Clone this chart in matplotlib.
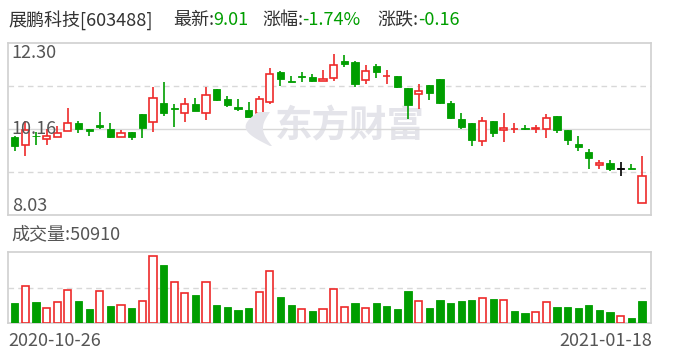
import matplotlib
matplotlib.use("Agg")
import matplotlib.pyplot as plt
import numpy as np
from matplotlib.patches import Polygon

plt.rcParams['font.family'] = ['Noto Sans CJK SC', 'DejaVu Sans']

# daily candles 2020-10-26 .. 2021-01-18
opens = [9.97, 9.76, 9.99, 9.91, 9.97, 10.11, 10.31, 10.16, 10.26, 10.16,
         9.96, 10.08, 10.54, 10.34, 10.81, 10.69, 10.55, 10.79, 10.56, 11.17,
         10.90, 10.70, 10.64, 10.55, 10.84, 11.58, 11.36, 11.46, 11.46, 11.35,
         11.44, 11.85, 11.83, 11.37, 11.73, 11.48, 11.48, 11.18, 11.03, 11.26,
         11.41, 10.81, 10.41, 10.31, 9.86, 10.36, 10.13, 10.16, 10.17, 10.17,
         10.16, 10.49, 10.14, 9.79, 9.59, 9.28, 9.32, 9.18, 9.18, 8.34]
highs = [10.00, 10.37, 10.08, 10.16, 10.24, 10.68, 10.36, 10.16, 10.59, 10.31,
         10.13, 10.08, 10.54, 11.21, 11.32, 10.78, 10.93, 10.93, 11.22, 11.17,
         10.98, 10.90, 10.84, 10.98, 11.67, 11.61, 11.47, 11.57, 11.53, 11.63,
         12.03, 12.00, 11.85, 11.75, 11.78, 11.63, 11.48, 11.18, 11.29, 11.26,
         11.41, 10.86, 10.56, 10.31, 10.46, 10.36, 10.56, 10.31, 10.26, 10.26,
         10.54, 10.49, 10.14, 9.99, 9.67, 9.40, 9.40, 9.35, 9.30, 9.49]
lows = [9.63, 9.50, 9.76, 9.78, 9.97, 10.11, 10.07, 10.00, 10.16, 9.93,
        9.96, 9.88, 9.93, 10.08, 10.50, 10.22, 10.33, 10.60, 10.40, 10.86,
        10.72, 10.60, 10.47, 10.50, 10.79, 11.24, 11.32, 11.32, 11.32, 11.35,
        11.36, 11.71, 11.22, 11.29, 11.44, 11.29, 11.19, 10.42, 10.65, 10.88,
        10.79, 10.41, 10.17, 9.74, 9.75, 9.97, 9.83, 10.07, 10.13, 10.07,
        9.95, 10.07, 9.78, 9.63, 9.18, 9.18, 9.11, 9.01, 9.17, 8.34]
closes = [9.75, 10.14, 9.98, 10.00, 10.07, 10.31, 10.16, 10.11, 10.21, 9.97,
          10.06, 9.97, 10.20, 10.93, 10.55, 10.67, 10.78, 10.62, 11.00, 10.88,
          10.75, 10.67, 10.47, 10.90, 11.52, 11.41, 11.34, 11.45, 11.36, 11.40,
          11.75, 11.79, 11.29, 11.61, 11.59, 11.49, 11.22, 10.77, 11.12, 11.07,
          10.81, 10.45, 10.22, 9.90, 10.36, 10.07, 10.18, 10.17, 10.16, 10.18,
          10.43, 10.15, 9.88, 9.73, 9.45, 9.32, 9.17, 9.18, 9.17, 9.01]
volumes = [46360, 84360, 48640, 34200, 47880, 75240, 50920, 32680, 72960, 39520,
           41040, 34960, 50920, 153520, 133000, 93480, 68400, 64600, 93480, 41800,
           37240, 30400, 34960, 71440, 118560, 60040, 41800, 31920, 28120, 31920,
           78280, 36480, 46360, 34200, 46360, 39520, 32680, 73720, 50160, 34960,
           53200, 46360, 50920, 53200, 57000, 55480, 52440, 28120, 23560, 25080,
           47880, 37240, 37240, 34960, 41800, 30400, 25840, 15960, 12160, 50910]

name = "展鹏科技[603488]"
last_price = "9.01"
pct_change = "-1.74%"
abs_change = "-0.16"
first_date = "2020-10-26"
last_date = "2021-01-18"
price_top, price_bottom = 12.30, 8.03

RED = '#ee2a2a'
GREEN = '#009e00'
GRID = '#d8d8d8'
TEXT = '#555555'
WATER = '#e4e4ea'

W, H = 688, 360
fig = plt.figure(figsize=(W / 100, H / 100), dpi=100)


def box(left, top, right, bottom):
    return [left / W, 1 - bottom / H, (right - left) / W, (bottom - top) / H]


def px(x, y):
    return x / W, 1 - y / H


ax = fig.add_axes(box(8, 43, 651, 215))
axv = fig.add_axes(box(8, 252, 651, 323))

n = len(closes)
x = np.arange(n)
o, h, l, c = map(np.array, (opens, highs, lows, closes))
bw = 0.68

for i in range(n):
    if c[i] > o[i]:
        col = RED
    elif c[i] < o[i]:
        col = GREEN
    else:
        col = 'black'
    top, bot = max(o[i], c[i]), min(o[i], c[i])
    if col == RED:
        ax.vlines(x[i], top, h[i], color=col, lw=1.2, zorder=2)
        ax.vlines(x[i], l[i], bot, color=col, lw=1.2, zorder=2)
        ax.bar(x[i], max(top - bot, 0.005), bottom=bot, width=bw, facecolor='white',
               edgecolor=col, linewidth=1.2, zorder=3)
    else:
        ax.vlines(x[i], l[i], h[i], color=col, lw=1.2, zorder=2)
        ax.bar(x[i], max(top - bot, 0.02), bottom=bot, width=bw, facecolor=col,
               edgecolor=col, linewidth=0.6, zorder=3)

# volume colour follows close vs previous close
prev = np.concatenate([[o[0]], c[:-1]])
for i in range(n):
    if c[i] > prev[i]:
        axv.bar(x[i], volumes[i], width=bw, facecolor='white', edgecolor=RED,
                linewidth=1.2, zorder=3)
    else:
        axv.bar(x[i], volumes[i], width=bw, facecolor=GREEN, edgecolor=GREEN,
                linewidth=0.6, zorder=3)

mid = (price_top + price_bottom) / 2
q = (price_top - price_bottom) / 4
ax.axhline(mid, color=GRID, lw=1, zorder=1)
ax.axhline(mid + q, color=GRID, lw=1, ls=(0, (4, 3)), zorder=1)
ax.axhline(mid - q, color=GRID, lw=1, ls=(0, (4, 3)), zorder=1)
ax.set_ylim(price_bottom, price_top)

vmax = 163400
axv.axhline(vmax / 2, color=GRID, lw=1, ls=(0, (4, 3)), zorder=1)
axv.set_ylim(0, vmax)

for a in (ax, axv):
    a.set_xlim(-0.63, n - 1 + 0.85)
    a.set_xticks([])
    a.set_yticks([])
    for s in a.spines.values():
        s.set_color('#d0d0d0')
        s.set_linewidth(1.2)

# watermark: swoosh logo + name
t = np.linspace(0, 1, 30)
outer = np.c_[258 - 18 * np.sin(np.pi * t) + 12 * t, 112 + 34 * t]
inner = np.c_[270 - 8 * np.sin(np.pi * t[::-1]) + 2 * t[::-1], 112 + 34 * t[::-1]]
pts = np.vstack([outer, inner])
pts = np.c_[pts[:, 0] / W, 1 - pts[:, 1] / H]
fig.add_artist(Polygon(pts, closed=True, transform=fig.transFigure,
                       facecolor=WATER, edgecolor='none', zorder=0.5))
ax.text(0.532, 0.52, "东方财富", transform=ax.transAxes, fontsize=27, fontweight='bold',
        color=WATER, ha='center', va='center', zorder=0)

# price labels
fs = 13
ax.text(0.006, 0.94, f"{price_top:.2f}", transform=ax.transAxes, fontsize=fs,
        color=TEXT, ha='left', va='center', zorder=5)
ax.text(0.006, 0.5, f"{mid:.2f}"[:5], transform=ax.transAxes, fontsize=fs,
        color=TEXT, ha='left', va='center', zorder=5)
ax.text(0.006, 0.05, f"{price_bottom:.2f}", transform=ax.transAxes, fontsize=fs,
        color=TEXT, ha='left', va='center', zorder=5)

# header
fig.text(*px(8, 20), name, fontsize=fs, color='#333333', va='center')
fig.text(*px(173, 20), "最新:", fontsize=fs, color='#333333', va='center')
fig.text(*px(213, 20), last_price, fontsize=fs, color=GREEN, va='center')
fig.text(*px(262, 20), "涨幅:", fontsize=fs, color='#333333', va='center')
fig.text(*px(302, 20), pct_change, fontsize=fs, color=GREEN, va='center')
fig.text(*px(377, 20), "涨跌:", fontsize=fs, color='#333333', va='center')
fig.text(*px(418, 20), abs_change, fontsize=fs, color=GREEN, va='center')

fig.text(*px(11, 234), f"成交量:{volumes[-1]}", fontsize=fs, color=TEXT, va='center')
fig.text(*px(8, 341), first_date, fontsize=fs, color=TEXT, va='center')
fig.text(*px(652, 341), last_date, fontsize=fs, color=TEXT, va='center', ha='right')

fig.savefig("out.png", dpi=100, facecolor='white')
